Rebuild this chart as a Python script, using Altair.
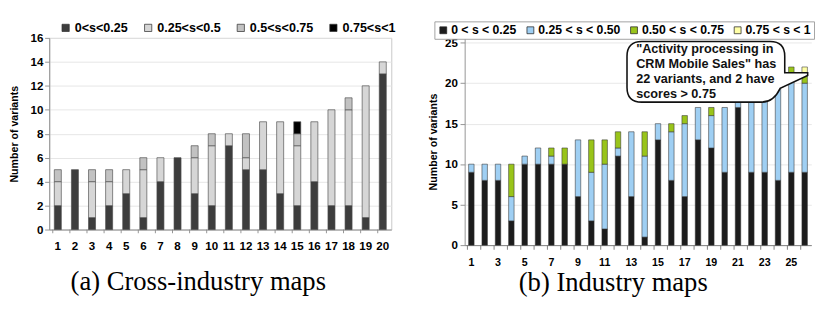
import altair as alt
import pandas as pd

# ---------------- data ----------------
# (a) Cross-industry maps
a_variants = list(range(1, 21))
a_s1 = [2, 5, 1, 2, 3, 1, 4, 6, 3, 2, 7, 5, 5, 3, 2, 4, 2, 2, 1, 13]
a_s2 = [2, 0, 3, 2, 2, 4, 2, 0, 3, 5, 1, 1, 4, 6, 5, 5, 8, 8, 11, 1]
a_s3 = [1, 0, 1, 1, 0, 1, 0, 0, 1, 1, 0, 2, 0, 0, 1, 0, 0, 1, 0, 0]
a_s4 = [0, 0, 0, 0, 0, 0, 0, 0, 0, 0, 0, 0, 0, 0, 1, 0, 0, 0, 0, 0]
a_labels = ["0<s<0.25", "0.25<s<0.5", "0.5<s<0.75", "0.75<s<1"]
a_colors = ["#3d3d3d", "#d6d6d6", "#c2c2c2", "#000000"]
a_yticks = [0, 2, 4, 6, 8, 10, 12, 14, 16]

# (b) Industry maps
b_variants = list(range(1, 27))
b_s1 = [9, 8, 8, 3, 10, 10, 10, 10, 6, 3, 2, 11, 6, 1, 13, 8, 6, 13, 12, 9, 17, 9, 9, 8, 9, 9]
b_s2 = [1, 2, 2, 3, 1, 2, 1, 0, 7, 6, 8, 1, 8, 10, 2, 6, 9, 4, 4, 8, 1, 9, 10, 13, 12, 11]
b_s3 = [0, 0, 0, 4, 0, 0, 1, 2, 0, 4, 3, 2, 0, 3, 0, 1, 1, 0, 1, 0, 0, 0, 0, 0, 1, 1]
b_s4 = [0, 0, 0, 0, 0, 0, 0, 0, 0, 0, 0, 0, 0, 0, 0, 0, 0, 0, 0, 0, 0, 0, 0, 0, 0, 1]
b_labels = ["0 < s < 0.25", "0.25 < s < 0.50", "0.50 < s < 0.75", "0.75 < s < 1"]
b_colors = ["#1c1c1c", "#9fcff3", "#99c41a", "#ffffa6"]
b_yticks = [0, 5, 10, 15, 20, 25]
b_xlabels = [1, 3, 5, 7, 9, 11, 13, 15, 17, 19, 21, 23, 25]
callout_lines = ['"Activity processing in', 'CRM Mobile Sales" has',
                 '22 variants, and 2 have', 'scores > 0.75']

captions = ["(a) Cross-industry maps", "(b) Industry maps"]

FONT = "Liberation Sans"
SERIF = "Liberation Serif"


def stack_table(cats, series, labels):
    rows = []
    for j, (lab, vals) in enumerate(zip(labels, series)):
        for c, v in zip(cats, vals):
            if v > 0:
                rows.append({"k": c, "s": lab, "v": v, "o": j})
    return pd.DataFrame(rows)


WA, HA = 373, 209
WB, HB = 378, 226
PI = 0.59
step_a = WA / len(a_variants)
step_b = WB / len(b_variants)

# ---------------- panel (a) ----------------
df_a = stack_table(a_variants, [a_s1, a_s2, a_s3, a_s4], a_labels)

xscale_a = alt.Scale(paddingInner=PI, paddingOuter=PI / 2)
xaxis_a = alt.Axis(title=None, labelAngle=0, ticks=False, labelPadding=11.5,
                   labelFontSize=12.6, labelFontWeight="bold", labelColor="black",
                   domainColor="#8c8c8c")

bars_a = alt.Chart(df_a).mark_bar(stroke="#4a4a4a", strokeWidth=0.7).encode(
    x=alt.X("k:O", scale=xscale_a, axis=xaxis_a),
    y=alt.Y("v:Q", stack="zero",
            scale=alt.Scale(domain=[0, 16], nice=False),
            axis=alt.Axis(values=a_yticks, title="Number of variants",
                          titleFontSize=11.6, titleFontWeight="bold", titleColor="black",
                          titlePadding=12, labelFontSize=12.6, labelFontWeight="bold",
                          labelColor="black", labelPadding=2, tickSize=5,
                          tickColor="#8c8c8c", domainColor="#8c8c8c",
                          gridColor="#e4e4e4")),
    color=alt.Color("s:N", scale=alt.Scale(domain=a_labels, range=a_colors),
                    legend=alt.Legend(title=None, orient="none", legendX=11, legendY=-18,
                                      direction="horizontal", symbolType="square",
                                      symbolSize=62, symbolStrokeColor="#333",
                                      symbolStrokeWidth=0.8, labelFontSize=13.7,
                                      labelFontWeight="bold", labelColor="black",
                                      labelOffset=3, columnPadding=15)),
    order=alt.Order("o:Q", sort="ascending"),
)

ticks_a = alt.Chart(pd.DataFrame({"k": a_variants})).mark_rule(
    color="#8c8c8c", xOffset=-PI * step_a / 2).encode(
    x=alt.X("k:O", scale=xscale_a, axis=xaxis_a),
    y=alt.value(HA), y2=alt.value(HA + 4),
)

panel_a = alt.layer(bars_a, ticks_a).properties(
    width=WA, height=HA,
    view=alt.ViewBackground(stroke="#c4c4c4", strokeWidth=1),
    title=alt.TitleParams(captions[0], orient="bottom", anchor="middle", frame="group",
                          font=SERIF, fontSize=29, fontWeight="normal", color="black",
                          offset=19, dx=-24),
)

# ---------------- panel (b) ----------------
df_b = stack_table(b_variants, [b_s1, b_s2, b_s3, b_s4], b_labels)

xscale_b = alt.Scale(paddingInner=PI, paddingOuter=PI / 2)
xaxis_b = alt.Axis(title=None, labelAngle=0, ticks=False, values=b_xlabels,
                   labelPadding=13.4, labelFontSize=11.6, labelFontWeight="bold",
                   labelColor="black", domainColor="#777")

bars_b = alt.Chart(df_b).mark_bar(stroke="#333333", strokeWidth=0.6).encode(
    x=alt.X("k:O", scale=xscale_b, axis=xaxis_b),
    y=alt.Y("v:Q", stack="zero",
            scale=alt.Scale(domain=[0, 25.59], nice=False),
            axis=alt.Axis(values=b_yticks, title="Number of variants",
                          titleFontSize=11.6, titleFontWeight="bold", titleColor="black",
                          titlePadding=7, labelFontSize=12.6, labelFontWeight="bold",
                          labelColor="black", labelPadding=3, tickSize=5,
                          tickColor="#8c8c8c", domainColor="#8c8c8c",
                          gridColor="#e6e6e6")),
    color=alt.Color("s:N", scale=alt.Scale(domain=b_labels, range=b_colors),
                    legend=alt.Legend(title=None, orient="none", legendX=-33, legendY=-18,
                                      direction="horizontal", symbolType="square",
                                      symbolSize=56, symbolStrokeColor="#222",
                                      symbolStrokeWidth=0.8, labelFontSize=13.3,
                                      labelFontWeight="bold", labelColor="black",
                                      labelOffset=2, columnPadding=8, padding=3,
                                      strokeColor="#9a9a9a", fillColor="white")),
    order=alt.Order("o:Q", sort="ascending"),
)

ticks_b = alt.Chart(pd.DataFrame({"k": b_variants})).mark_rule(
    color="#777", xOffset=-PI * step_b / 2).encode(
    x=alt.X("k:O", scale=xscale_b, axis=xaxis_b),
    y=alt.value(HB), y2=alt.value(HB + 5),
)

# callout balloon (annotation), drawn as one path in plot pixels
L, R, T, B, r = 177, 349, 4, 70, 16
tip_x, tip_y = 374, 38
balloon = (
    f"M{L + r},{T} L{R - r},{T} Q{R},{T} {R},{T + r} L{R},{tip_y} L{tip_x},{tip_y} "
    f"L{tip_x},{tip_y + 3} L{R - 5},{tip_y + 17} Q{R - 12},{B} {R - 25},{B} "
    f"L{L + r},{B} Q{L},{B} {L},{B - r} L{L},{T + r} Q{L},{T} {L + r},{T} Z"
)
callout_shape = alt.Chart(pd.DataFrame({"n": [0]})).mark_point(
    shape=balloon, size=4, filled=True, fill="white", stroke="#111",
    strokeWidth=1.7, opacity=1, fillOpacity=1, strokeOpacity=1).encode(
    x=alt.value(0), y=alt.value(0))

callout_text = alt.Chart(pd.DataFrame({"n": [0]})).mark_text(
    text=callout_lines, align="left", baseline="top", font=FONT, fontSize=13.8,
    fontWeight="bold", lineHeight=16, color="#111").encode(
    x=alt.value(L + 10), y=alt.value(T + 2))

panel_b = alt.layer(bars_b, ticks_b, callout_shape, callout_text).properties(
    width=WB, height=HB,
    view=alt.ViewBackground(strokeOpacity=0),
    title=alt.TitleParams(captions[1], orient="bottom", anchor="middle", frame="group",
                          font=SERIF, fontSize=29, fontWeight="normal", color="black",
                          offset=2, dx=-27),
)

chart = alt.hconcat(panel_a, panel_b, spacing=33).resolve_scale(
    color="independent", x="independent", y="independent"
).resolve_legend(color="independent").properties(
    padding={"left": 0, "top": 0, "right": 0, "bottom": 0}, background="white"
).configure_axis(labelFont=FONT, titleFont=FONT).configure_legend(labelFont=FONT)

chart.save("out.html", embed_options={"renderer": "svg", "actions": False})
